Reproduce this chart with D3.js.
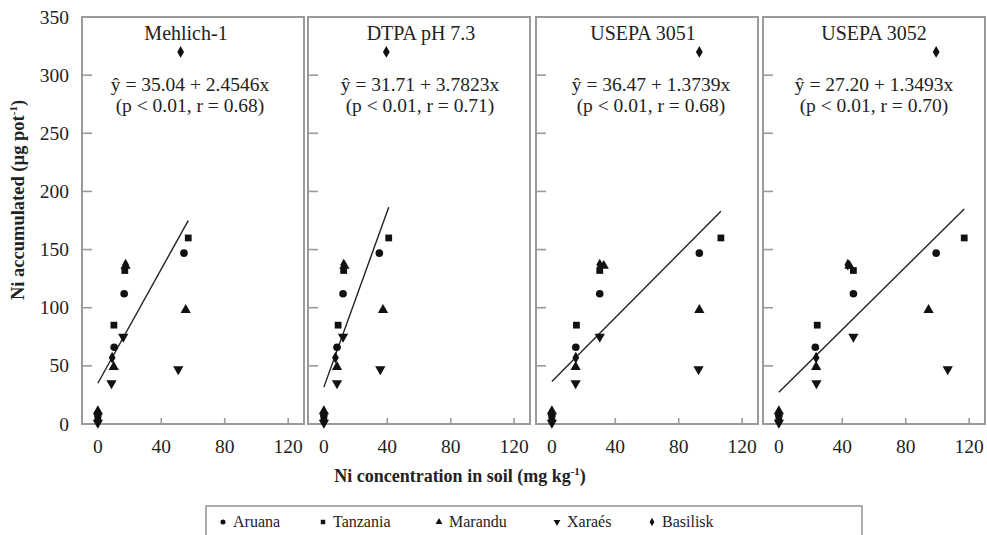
<!DOCTYPE html>
<html><head><meta charset="utf-8">
<script src="https://cdn.jsdelivr.net/npm/d3@7"></script>
<style>body{margin:0;background:#fff}svg{display:block}text{font-family:"Liberation Serif","Times New Roman",serif;fill:#222}</style>
</head><body>
<script>
const panels = ["Mehlich-1", "DTPA pH 7.3", "USEPA 3051", "USEPA 3052"];
const equations = ["\u0177 = 35.04 + 2.4546x", "\u0177 = 31.71 + 3.7823x", "\u0177 = 36.47 + 1.3739x", "\u0177 = 27.20 + 1.3493x"];
const stats = ["(p < 0.01, r = 0.68)", "(p < 0.01, r = 0.71)", "(p < 0.01, r = 0.68)", "(p < 0.01, r = 0.70)"];
const intercepts = [35.04, 31.71, 36.47, 27.20];
const slopes = [2.4546, 3.7823, 1.3739, 1.3493];
const cultivars = ["Aruana", "Tanzania", "Marandu", "Xaraés", "Basilisk"];
// Ni accumulated (µg pot-1) per cultivar, for 4 Ni levels
const yAruana = [8, 66, 112, 147];
const yTanzania = [5, 85, 132, 160];
const yMarandu = [11, 49, 136, 98];
const yXaraes = [1, 35, 75, 47];
const yBasilisk = [3, 57, 137, 320];
// Ni concentration in soil (mg kg-1), per extractant, per cultivar
const xMehlich = [[0, 10.3, 16.6, 54.3], [0, 10.1, 17, 57], [0, 10, 17.5, 55.4], [0, 8.6, 16, 50.7], [0, 9, 17.5, 52.2]];
const xDTPA = [[0, 8.3, 12.1, 35], [0, 9, 12.5, 40.9], [0, 8.3, 13, 37.3], [0, 8.3, 12.1, 35.6], [0, 7.3, 12.5, 39.4]];
const x3051 = [[0, 15.1, 30.2, 93], [0, 15.5, 30.2, 106.6], [0, 15, 32.7, 93], [0, 15, 30.2, 92.5], [0, 15.1, 30.2, 93]];
const x3052 = [[0, 23, 47, 99.2], [0, 24.2, 47, 116.9], [0, 23.5, 44.5, 94.4], [0, 23.7, 47, 106.5], [0, 23.5, 43.5, 99.2]];
const yTicks = [0, 50, 100, 150, 200, 250, 300, 350];
const xTicks = [0, 40, 80, 120];

const yByCultivar = [yAruana, yTanzania, yMarandu, yXaraes, yBasilisk];
const xByPanel = [xMehlich, xDTPA, x3051, x3052];
const symbols = [d3.symbolCircle, d3.symbolSquare, d3.symbolTriangle, "down", d3.symbolDiamond];
const symSizes = [46, 46, 46, 46, 40];

const W = 987, H = 535;
const svg = d3.select("body").append("svg").attr("width", W).attr("height", H);

const panelLefts = [82, 308, 536, 763];
const pw = 222, plotTop = 17, plotBottom = 424;
const y = d3.scaleLinear().domain([0, 350]).range([plotBottom, plotTop]);
const frame = "#9a9a9a";

function symPath(i, size) {
  if (symbols[i] === "down") {
    return d3.symbol(d3.symbolTriangle, size)();
  }
  return d3.symbol(symbols[i], size)();
}

const titleDx = [-7, 2, -4, 0];
const eqDx = [-3, 1, 4, 0];

panels.forEach((name, p) => {
  const x = d3.scaleLinear().domain([-10, 130]).range([panelLefts[p], panelLefts[p] + pw]);
  const g = svg.append("g");
  const cx = panelLefts[p] + pw / 2;

  g.selectAll(".yt").data(yTicks.filter(t => t > 0 && t < 350)).join("line")
    .attr("x1", panelLefts[p]).attr("x2", panelLefts[p] + 10)
    .attr("y1", d => y(d)).attr("y2", d => y(d))
    .attr("stroke", frame).attr("stroke-width", 1.6);
  g.selectAll(".xt").data(xTicks.filter(t => t > 0)).join("line")
    .attr("x1", d => x(d)).attr("x2", d => x(d))
    .attr("y1", plotBottom).attr("y2", plotBottom - 6)
    .attr("stroke", frame).attr("stroke-width", 1.6);
  g.selectAll(".xl").data(xTicks).join("text")
    .attr("x", d => x(d)).attr("y", 453)
    .attr("text-anchor", "middle").attr("font-size", 19.5)
    .text(d => d);

  g.append("rect").attr("x", panelLefts[p]).attr("y", plotTop)
    .attr("width", pw).attr("height", plotBottom - plotTop)
    .attr("fill", "none").attr("stroke", frame).attr("stroke-width", 2);

  g.append("text").attr("x", cx + titleDx[p]).attr("y", 40).attr("text-anchor", "middle")
    .attr("font-size", 20).text(name);
  g.append("text").attr("x", cx + eqDx[p]).attr("y", 91).attr("text-anchor", "middle")
    .attr("font-size", 19.5).text(equations[p]);
  g.append("text").attr("x", cx + eqDx[p]).attr("y", 112).attr("text-anchor", "middle")
    .attr("font-size", 19.5).text(stats[p]);

  const allX = xByPanel[p].flat();
  const x0 = d3.min(allX), x1 = d3.max(allX);
  g.append("line")
    .attr("x1", x(x0)).attr("y1", y(intercepts[p] + slopes[p] * x0))
    .attr("x2", x(x1)).attr("y2", y(intercepts[p] + slopes[p] * x1))
    .attr("stroke", "#222").attr("stroke-width", 1.4);

  cultivars.forEach((c, i) => {
    const pts = xByPanel[p][i].map((xv, k) => [xv, yByCultivar[i][k]]);
    g.selectAll(".pt" + i).data(pts).join("path")
      .attr("d", symPath(i, symSizes[i]))
      .attr("transform", d => `translate(${x(d[0])},${y(d[1])})` + (symbols[i] === "down" ? " rotate(180)" : ""))
      .attr("fill", "#111");
  });
});

svg.selectAll(".ylab").data(yTicks).join("text")
  .attr("x", 69).attr("y", d => y(d) + 6.5)
  .attr("text-anchor", "end").attr("font-size", 19.5).text(d => d);

const yt = svg.append("text").attr("transform", "translate(24,200) rotate(-90)")
  .attr("text-anchor", "middle").attr("font-size", 18.5).attr("font-weight", "bold");
yt.append("tspan").text("Ni accumulated (µg pot");
yt.append("tspan").attr("font-size", 11).attr("dy", -7).text("-1");
yt.append("tspan").attr("dy", 7).text(")");

const xt = svg.append("text").attr("x", 460).attr("y", 482)
  .attr("text-anchor", "middle").attr("font-size", 18).attr("font-weight", "bold");
xt.append("tspan").text("Ni concentration in soil (mg kg");
xt.append("tspan").attr("font-size", 11).attr("dy", -7).text("-1");
xt.append("tspan").attr("dy", 7).text(")");

svg.append("rect").attr("x", 206).attr("y", 506).attr("width", 656).attr("height", 40)
  .attr("fill", "none").attr("stroke", frame).attr("stroke-width", 1.6);
const legMarkX = [223, 323, 439, 557, 652];
cultivars.forEach((c, i) => {
  svg.append("path").attr("d", symPath(i, 20))
    .attr("transform", `translate(${legMarkX[i]},522)` + (symbols[i] === "down" ? " rotate(180)" : ""))
    .attr("fill", "#111");
  svg.append("text").attr("x", legMarkX[i] + 10).attr("y", 527)
    .attr("font-size", 16).text(c);
});
</script>
</body></html>
